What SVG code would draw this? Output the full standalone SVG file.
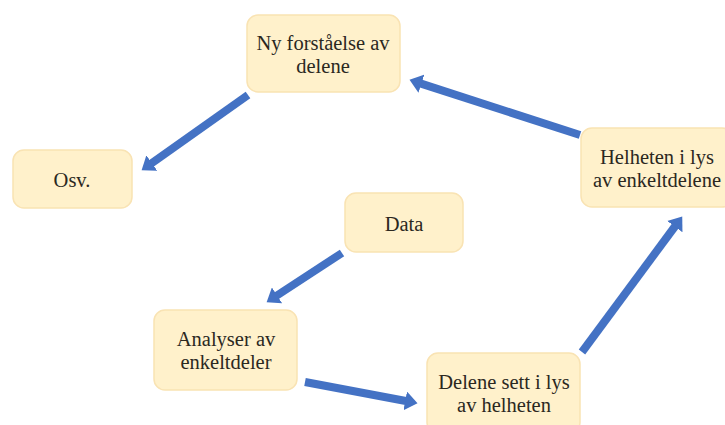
<svg xmlns="http://www.w3.org/2000/svg" width="725" height="425" viewBox="0 0 725 425">
  <defs>
    <style>
      .box { fill: #FFF1CB; stroke: #F9E3B3; stroke-width: 1.5; }
      .label { font-family: 'Liberation Serif', 'Times New Roman', serif; font-size: 20.5px; fill: #2b281f; text-anchor: middle; }
      .conn { stroke: #4472C4; stroke-width: 8; fill: none; marker-end: url(#head); }
    </style>
    <marker id="head" markerUnits="userSpaceOnUse" markerWidth="13" markerHeight="19" refX="2" refY="9.5" orient="auto">
      <path d="M0,0 L12.5,9.5 L0,19 Z" fill="#4472C4"/>
    </marker>
  </defs>
  <rect width="725" height="425" fill="#ffffff"/>

  <g id="connectors">
    <line class="conn" x1="248" y1="95" x2="150.2" y2="164.2"/>
    <line class="conn" x1="580" y1="135" x2="419.5" y2="83.1"/>
    <line class="conn" x1="582" y1="352" x2="676" y2="225"/>
    <line class="conn" x1="342" y1="253" x2="275.4" y2="296.5"/>
    <line class="conn" x1="305" y1="382" x2="407.2" y2="401.2"/>
  </g>

  <g id="ny-forstaelse">
    <rect class="box" x="247" y="15" width="153" height="77" rx="11"/>
    <text class="label" x="323" y="50">Ny forståelse av</text>
    <text class="label" x="323" y="73">delene</text>
  </g>

  <g id="helheten">
    <rect class="box" x="581" y="128" width="152" height="79" rx="11"/>
    <text class="label" x="657" y="164">Helheten i lys</text>
    <text class="label" x="657" y="187">av enkeltdelene</text>
  </g>

  <g id="osv">
    <rect class="box" x="13" y="150" width="119" height="58" rx="11"/>
    <text class="label" x="72" y="187">Osv.</text>
  </g>

  <g id="data">
    <rect class="box" x="345" y="193" width="118" height="59" rx="11"/>
    <text class="label" x="404" y="231">Data</text>
  </g>

  <g id="analyser">
    <rect class="box" x="154" y="310" width="143" height="80" rx="11"/>
    <text class="label" x="226" y="346">Analyser av</text>
    <text class="label" x="226" y="369">enkeltdeler</text>
  </g>

  <g id="delene-sett">
    <rect class="box" x="427" y="353" width="153" height="80" rx="11"/>
    <text class="label" x="504" y="389">Delene sett i lys</text>
    <text class="label" x="504" y="412">av helheten</text>
  </g>
</svg>
